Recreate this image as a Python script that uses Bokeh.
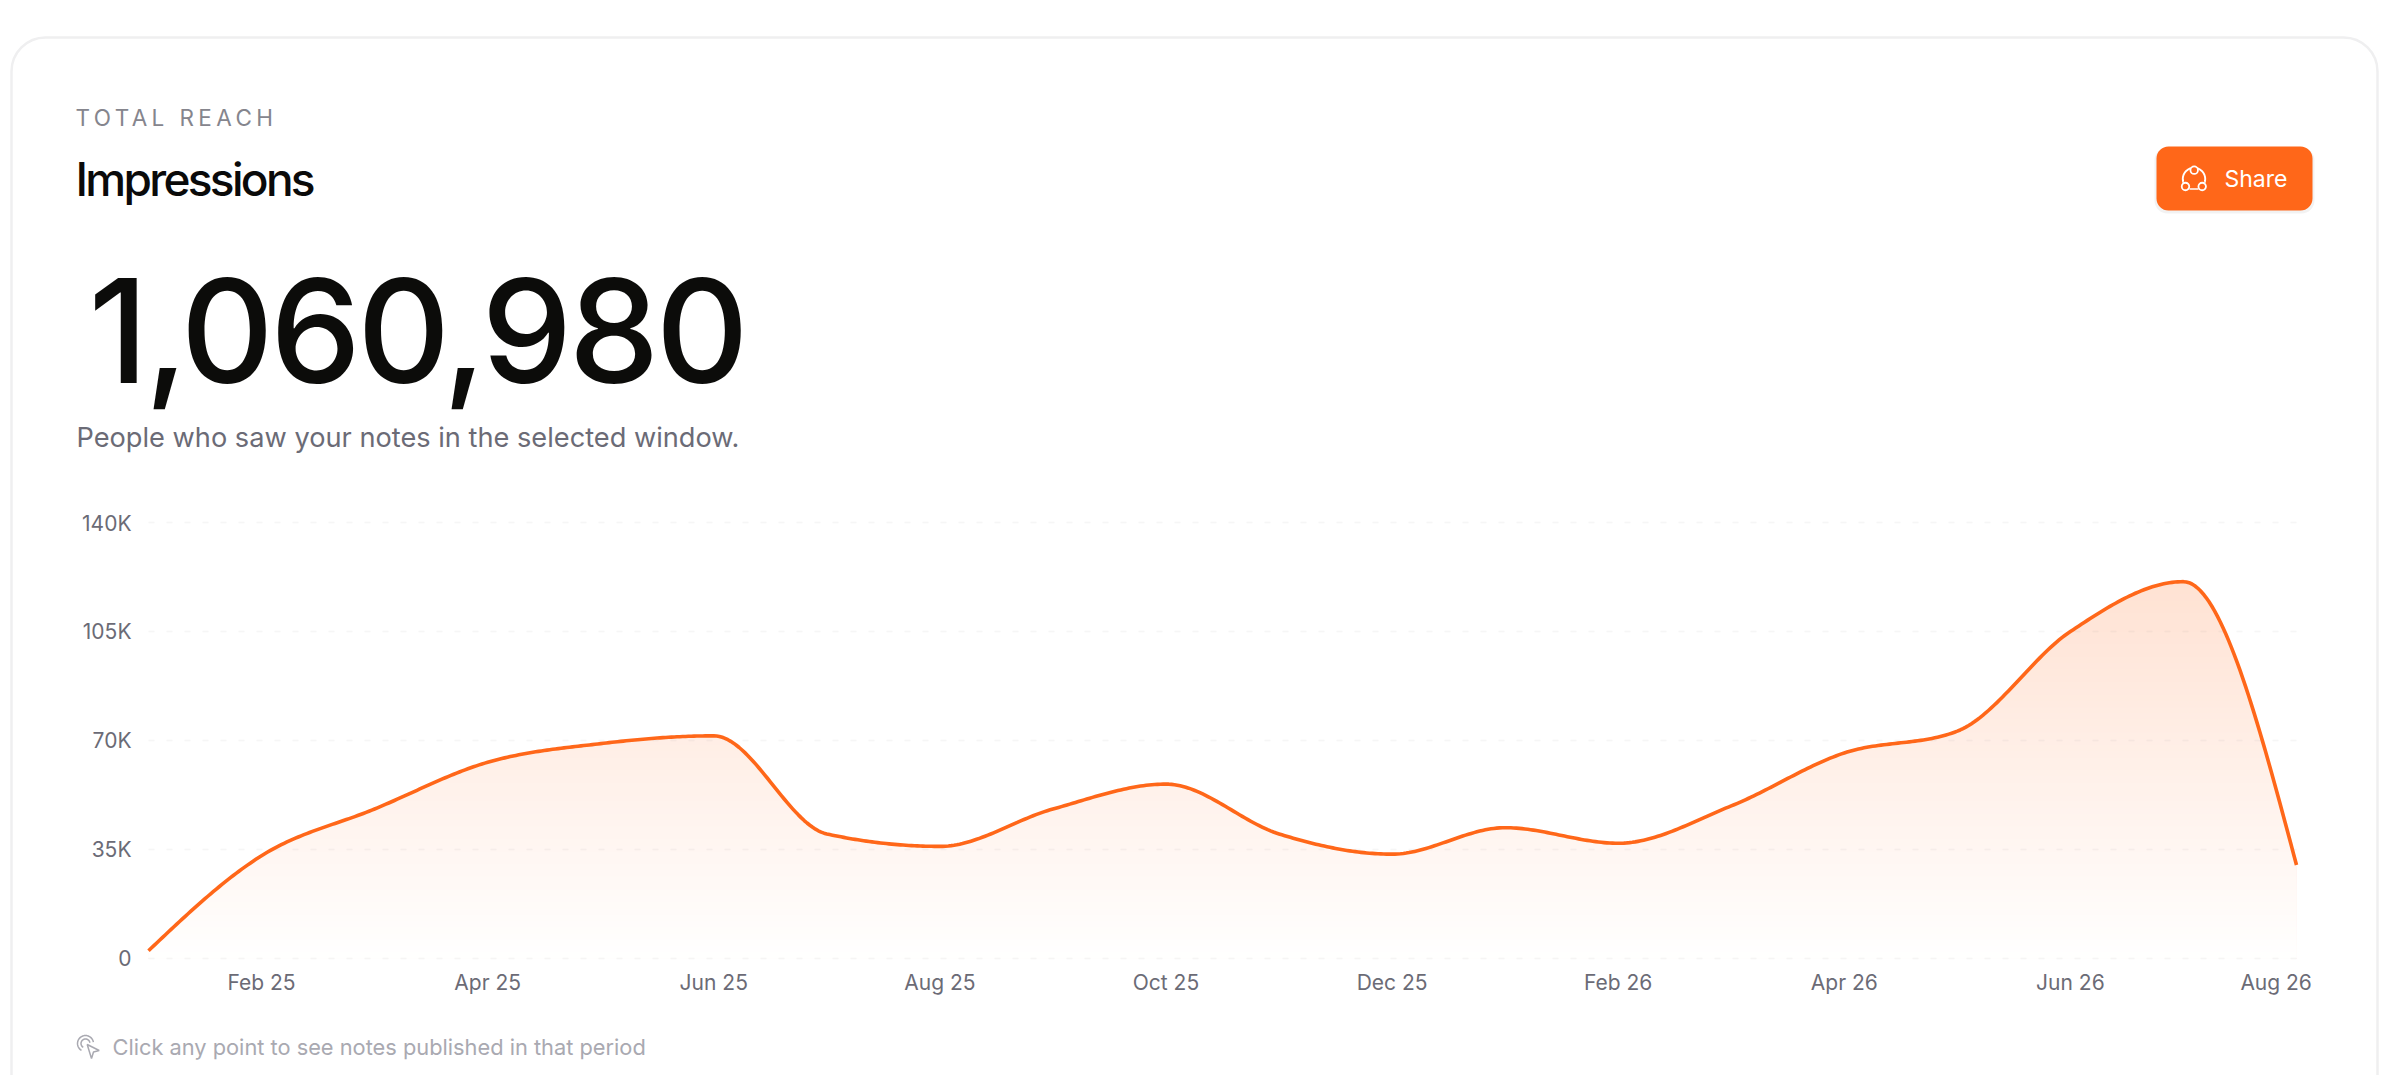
import numpy as np
from bokeh.plotting import figure
from bokeh.models import BoxAnnotation, Range1d, FixedTicker
from bokeh.core.properties import value
from bokeh.embed import file_html
from bokeh.resources import INLINE

# ---------- data ----------
months = ["Jan 25","Feb 25","Mar 25","Apr 25","May 25","Jun 25","Jul 25","Aug 25","Sep 25","Oct 25",
          "Nov 25","Dec 25","Jan 26","Feb 26","Mar 26","Apr 26","May 26","Jun 26","Jul 26","Aug 26"]
impressions = [2500,33000,48000,63000,69000,71500,40000,36000,48000,56000,
               40000,33500,42000,37000,49000,66000,73000,105000,121000,30000]
y_ticks = [0,35000,70000,105000,140000]
y_labels = ["0","35K","70K","105K","140K"]
x_ticks = [1,3,5,7,9,11,13,15,17,18.82]
x_labels = ["Feb 25","Apr 25","Jun 25","Aug 25","Oct 25","Dec 25","Feb 26","Apr 26","Jun 26","Aug 26"]
kicker = "TOTAL REACH"
title = "Impressions"
total = "1,060,980"
subtitle = "People who saw your notes in the selected window."
footer = "Click any point to see notes published in that period"
button = "Share"

ORANGE = "#FF6719"
SANS = "Inter"

def arc_pts(cx, cy, r, a0, a1, n=24):
    # angles in degrees, screen sense: 0 = right, 90 = up
    t = np.radians(np.linspace(a0, a1, n))
    return cx + r*np.cos(t), cy - r*np.sin(t)

# ---------- page layer ----------
page = figure(width=2388, height=1075, x_range=Range1d(0,2388), y_range=Range1d(1075,0),
              output_backend="svg", toolbar_location=None, min_border=0,
              x_axis_location=None, y_axis_location=None, outline_line_color=None,
              styles={"position":"absolute","left":"0px","top":"0px"})
page.grid.visible = False
for box in (
    BoxAnnotation(left=11, right=2377, top=37, bottom=1300, border_radius=34,
                  fill_color="white", fill_alpha=1, line_color="#efeff0", line_alpha=1, line_width=2.5),
    BoxAnnotation(left=2154, right=2314, top=147, bottom=213, border_radius=13,
                  fill_color="#000000", fill_alpha=0.05, line_color=None),
    BoxAnnotation(left=2156, right=2312, top=146, bottom=210, border_radius=12,
                  fill_color=ORANGE, fill_alpha=1, line_color=None),
):
    box.level = "underlay"
    page.add_layout(box)
# share icon
for a0, a1 in ((-20, 75), (105, 200)):
    ax_, ay_ = arc_pts(2193.5, 178.5, 11.2, a0, a1)
    page.line(ax_, ay_, line_color="white", line_width=1.9)
page.segment(x0=[2189],y0=[188.5],x1=[2198],y1=[188.5],line_color="white",line_width=1.7)
page.scatter(x=[2193.7,2185,2201.7], y=[169.7,186,186], size=7.5, marker="circle",
             fill_color=ORANGE, line_color="white", line_width=1.8)
page.text(x=[2224], y=[178], text=[button], text_font=value(SANS), text_font_size="23px",
          text_color="white", text_baseline="middle", text_align="left")
page.text(x=[76], y=[437], text=[subtitle], text_font=value(SANS), text_font_size="27.2px",
          text_color="#6b6b76", text_baseline="middle", text_align="left")
page.text(x=[112], y=[1046], text=[footer], text_font=value(SANS), text_font_size="21.8px",
          text_color="#a9a9b1", text_baseline="middle", text_align="left")
# pointer icon
for r in (8, 4.5):
    ax_, ay_ = arc_pts(85, 1043, r, 10, 240)
    page.line(ax_, ay_, line_color="#a9a9b1", line_width=1.5)
page.patch(x=[86.7,98.7,93,91],y=[1044,1050,1051.5,1058],fill_color="white",line_color="#a9a9b1",line_width=1.5)

# ---------- letter-spaced text layers ----------
def text_layer(txt, left, top, w, h, size, color, spacing, font=SANS):
    f = figure(width=w, height=h, x_range=Range1d(0,w), y_range=Range1d(h,0),
               output_backend="svg", toolbar_location=None, min_border=0,
               x_axis_location=None, y_axis_location=None, outline_line_color=None,
               background_fill_alpha=0, border_fill_alpha=0,
               styles={"position":"absolute","left":f"{left}px","top":f"{top}px",
                       "letter-spacing":spacing})
    f.grid.visible = False
    f.text(x=[10], y=[h/2], text=[txt], text_font=value(font), text_font_size=f"{size}px",
           text_color=color, text_baseline="middle", text_align="left")
    return f

kick_fig = text_layer(kicker, 65, 97, 320, 40, 22.5, "#85858d", "4.4px")
title_fig = text_layer(title, 65, 138, 400, 80, 46, "#0a0a0a", "-2.7px", "Inter Medium")
total_fig = text_layer(total, 78, 210, 840, 240, 144, "#0c0c0a", "-3.6px", "Inter Medium")

# ---------- chart ----------
x = np.arange(len(impressions), dtype=float)
y = np.array(impressions, dtype=float)

def monotone(xs, ys, per=40):
    h = np.diff(xs); s = np.diff(ys)/h
    t = np.zeros(len(xs))
    for i in range(1,len(xs)-1):
        p_ = (s[i-1]*h[i]+s[i]*h[i-1])/(h[i-1]+h[i])
        t[i] = (np.sign(s[i-1])+np.sign(s[i]))*min(abs(s[i-1]),abs(s[i]),0.5*abs(p_))
    t[0] = (3*s[0]-t[1])/2
    t[-1] = (3*s[-1]-t[-2])/2
    X, Y = [], []
    for i in range(len(xs)-1):
        u = np.linspace(0,1,per,endpoint=False)
        X.append(xs[i]+u*h[i])
        Y.append((2*u**3-3*u**2+1)*ys[i]+(u**3-2*u**2+u)*h[i]*t[i]+(-2*u**3+3*u**2)*ys[i+1]+(u**3-u**2)*h[i]*t[i+1])
    X.append([xs[-1]]); Y.append([ys[-1]])
    return np.concatenate(X), np.concatenate(Y)

cx, cy = monotone(x, y)
peak = cy.max()

# plot area padded by a few pixels so the 0 and 140K gridlines are not clipped
PAD = 1284.0          # value units, about 4 px
CH_LEFT, CH_TOP, CH_W, CH_H = 8, 510, 2340, 500
F_TOP, F_BOTTOM = 518, 962
p = figure(width=CH_W, height=CH_H, x_range=Range1d(0,19), y_range=Range1d(-PAD,140000+PAD),
           output_backend="svg", toolbar_location=None, outline_line_color=None,
           background_fill_alpha=0, border_fill_alpha=0,
           min_border_left=148-CH_LEFT, min_border_right=CH_LEFT+CH_W-2296,
           min_border_top=F_TOP-CH_TOP, min_border_bottom=CH_TOP+CH_H-F_BOTTOM,
           styles={"position":"absolute","left":f"{CH_LEFT}px","top":f"{CH_TOP}px"})

# vertical gradient: opaque bands painted from the top down
n_bands = 60
levels = np.linspace(peak, 0, n_bands, endpoint=False)
for lv in levels:
    a = 0.19*lv/peak
    c = tuple(int(round(255-(255-k)*a)) for k in (0xFF,0x67,0x19))
    p.varea(x=cx, y1=np.zeros_like(cy), y2=np.minimum(cy, lv), fill_color="#%02x%02x%02x" % c)

p.xgrid.visible = False
p.ygrid.ticker = FixedTicker(ticks=y_ticks)
p.ygrid.grid_line_color = "#8a8a92"
p.ygrid.grid_line_alpha = 0.08
p.ygrid.grid_line_width = 1.5
p.ygrid.grid_line_dash = "6 12"
p.ygrid.level = "guide"

line = p.line(cx, cy, line_color=ORANGE, line_width=3.6, line_join="round")
line.level = "overlay"

for ax, ticks, labels in ((p.xaxis, x_ticks, x_labels), (p.yaxis, y_ticks, y_labels)):
    ax.ticker = FixedTicker(ticks=ticks)
    ax.major_label_overrides = dict(zip(ticks, labels))
    ax.axis_line_color = None
    ax.major_tick_line_color = None
    ax.minor_tick_line_color = None
    ax.major_label_text_font = SANS
    ax.major_label_text_font_size = "21px"
    ax.major_label_text_color = "#6b6b76"
p.xaxis.major_label_standoff = 1
p.yaxis.major_label_standoff = 11

open("out.html", "w").write(file_html([page, p, kick_fig, title_fig, total_fig], INLINE))
